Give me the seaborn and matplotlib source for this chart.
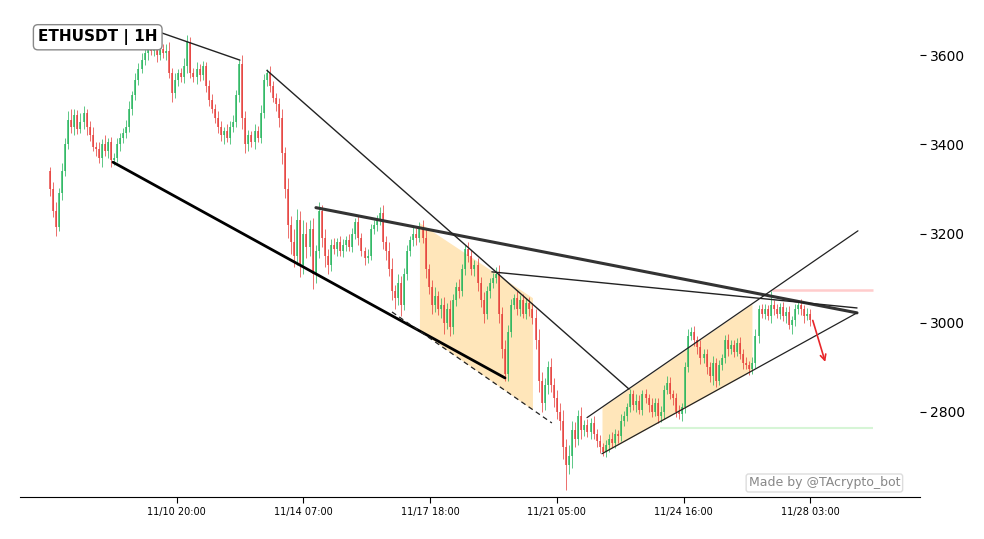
import numpy as np
import pandas as pd
import matplotlib
matplotlib.use("Agg")
import matplotlib.pyplot as plt
import seaborn as sns

# 2-hour closes, starting 11/07 09:00
closes = [
    3300, 3250, 3215, 3290, 3340, 3400, 3455, 3440, 3465, 3435,
    3450, 3470, 3440, 3420, 3395, 3390, 3370, 3400, 3385, 3405,
    3365, 3370, 3400, 3415, 3425, 3440, 3480, 3510, 3545, 3570,
    3590, 3605, 3620, 3610, 3625, 3600, 3615, 3605, 3610, 3560,
    3515, 3545, 3560, 3550, 3575, 3630, 3560, 3550, 3570, 3555,
    3575, 3530, 3500, 3480, 3460, 3440, 3420, 3430, 3415, 3440,
    3450, 3510, 3580, 3460, 3400, 3420, 3405, 3430, 3415, 3470,
    3545, 3560, 3530, 3505, 3490, 3460, 3380, 3300, 3220, 3180,
    3150, 3230, 3130, 3200, 3170, 3210, 3110, 3160, 3250, 3190,
    3150, 3130, 3175, 3165, 3180, 3160, 3175, 3185, 3170, 3200,
    3225, 3190, 3160, 3145, 3150, 3210, 3220, 3230, 3245, 3180,
    3160, 3120, 3070, 3055, 3090, 3040, 3110, 3160, 3185, 3200,
    3190, 3215, 3190, 3120, 3080, 3040, 3060, 3030, 3040, 3000,
    3030, 2990, 3050, 3080, 3070, 3120, 3165, 3150, 3120, 3130,
    3090, 3050, 3020, 3070, 3090, 3100, 3110, 3020, 2940, 2885,
    2980, 3040, 3055, 3030, 3050, 3020, 3045, 3030, 3010, 2960,
    2870, 2820, 2860, 2900, 2860, 2830, 2800, 2780, 2720, 2680,
    2700, 2760, 2740, 2790, 2760, 2770, 2755, 2775, 2750, 2735,
    2720, 2710, 2725, 2740, 2730, 2750, 2745, 2780, 2790, 2810,
    2840, 2815, 2825, 2805, 2840, 2830, 2815, 2800, 2820, 2790,
    2800, 2850, 2865, 2840, 2830, 2800, 2795, 2810, 2900, 2970,
    2980, 2960, 2945, 2920, 2930, 2900, 2880, 2910, 2870, 2905,
    2920, 2960, 2940, 2950, 2935, 2955, 2930, 2910, 2905, 2895,
    2910, 2970, 3030, 3020, 3030, 3015, 3040, 3030, 3020, 3035,
    3015, 3025, 2995, 3005, 3030, 3040, 3030, 3015, 3020, 3005,
]
# wick lengths above / below the body (price units), estimated
wick_hi = [
    10, 15, 20, 12, 18, 15, 20, 25, 15, 12,
    20, 15, 10, 12, 18, 10, 15, 12, 20, 10,
    12, 10, 15, 10, 12, 15, 18, 10, 15, 12,
    15, 10, 12, 8, 15, 10, 12, 10, 15, 20,
    12, 15, 10, 12, 18, 15, 10, 12, 15, 10,
    12, 10, 15, 12, 10, 15, 12, 10, 15, 12,
    15, 12, 10, 20, 15, 12, 10, 15, 12, 18,
    12, 10, 15, 12, 10, 15, 20, 15, 25, 20,
    30, 25, 20, 30, 25, 20, 25, 15, 20, 15,
    20, 15, 12, 15, 10, 15, 12, 10, 15, 12,
    10, 15, 12, 10, 15, 12, 10, 12, 15, 20,
    15, 20, 25, 15, 20, 15, 12, 15, 10, 15,
    12, 10, 15, 20, 12, 15, 20, 12, 15, 18,
    15, 20, 15, 12, 18, 12, 10, 15, 12, 10,
    15, 12, 18, 12, 10, 12, 15, 20, 15, 20,
    15, 12, 10, 15, 12, 15, 10, 12, 15, 20,
    25, 20, 15, 15, 20, 15, 18, 20, 25, 20,
    25, 20, 18, 15, 20, 12, 15, 12, 15, 12,
    12, 10, 12, 10, 15, 12, 10, 15, 12, 10,
    12, 10, 15, 12, 10, 12, 10, 15, 12, 10,
    12, 10, 15, 12, 10, 12, 15, 10, 12, 15,
    10, 12, 10, 15, 12, 10, 12, 15, 10, 12,
    10, 12, 15, 10, 12, 10, 12, 10, 12, 10,
    12, 15, 10, 12, 12, 10, 30, 10, 12, 10,
    12, 10, 12, 10, 12, 10, 12, 10, 12, 10,
]
wick_lo = [
    15, 12, 20, 10, 15, 12, 10, 15, 20, 12,
    10, 15, 20, 12, 10, 15, 12, 20, 10, 15,
    15, 12, 10, 15, 12, 10, 12, 15, 10, 12,
    10, 12, 15, 10, 12, 15, 10, 12, 15, 12,
    20, 12, 15, 10, 12, 15, 12, 10, 15, 12,
    10, 12, 15, 10, 12, 15, 12, 20, 10, 15,
    12, 10, 15, 25, 20, 15, 12, 15, 10, 12,
    10, 15, 12, 10, 15, 20, 25, 20, 30, 25,
    25, 20, 27, 20, 25, 20, 35, 20, 15, 20,
    25, 20, 15, 12, 15, 10, 12, 15, 10, 12,
    12, 15, 10, 15, 12, 10, 12, 15, 10, 15,
    20, 15, 20, 25, 15, 25, 12, 15, 10, 12,
    15, 10, 12, 20, 15, 20, 15, 12, 20, 25,
    15, 20, 15, 12, 15, 10, 12, 15, 12, 15,
    20, 15, 20, 12, 15, 12, 10, 20, 20, 15,
    15, 12, 10, 12, 15, 10, 12, 15, 12, 20,
    25, 20, 15, 20, 15, 20, 15, 20, 25, 55,
    20, 25, 20, 15, 20, 15, 12, 15, 12, 15,
    12, 10, 12, 15, 10, 12, 15, 10, 12, 10,
    10, 12, 15, 10, 12, 10, 15, 12, 10, 15,
    12, 15, 10, 12, 15, 12, 10, 15, 12, 10,
    10, 12, 15, 12, 10, 15, 12, 20, 15, 10,
    12, 10, 15, 10, 12, 10, 12, 15, 10, 12,
    10, 12, 15, 10, 12, 10, 15, 12, 10, 12,
    12, 15, 10, 20, 12, 10, 12, 15, 10, 12,
]
first_open = 3340
candle_step = 2  # hours per candle

tick_hours = [83, 166, 249, 332, 415, 498]
tick_labels = ["11/10 20:00", "11/14 07:00", "11/17 18:00",
               "11/21 05:00", "11/24 16:00", "11/28 03:00"]
y_ticks = [2800, 3000, 3200, 3400, 3600]

# trendlines: hour0, price0, hour1, price1
thick_lines = [(41.3, 3360, 298.0, 2876)]
thick_grey_lines = [(174.2, 3258, 528.5, 3022)]
thin_lines = [(69.0, 3655, 124.4, 3589),
              (142.1, 3566, 379.2, 2851),
              (289.4, 3114, 528.5, 3033)]
channel_upper = (351.7, 2787, 529.1, 3206)
channel_lower = (361.5, 2706, 528.5, 3022)
channel_fill_hours = (361.5, 459.7)
dashed_line = (224.0, 3024, 328.7, 2775)
desc_box = [(242.3, 3223), (316.3, 3055), (316.3, 2804), (242.3, 2981)]
resistance = (472.8, 539.0, 3073)
support = (399.5, 539.0, 2764)
arrow = (499.0, 3011, 508.2, 2906)

sns.set_style("white")
plt.rcParams["font.family"] = ["DejaVu Sans"]

df = pd.DataFrame({"close": closes, "wick_hi": wick_hi, "wick_lo": wick_lo})
df["hour"] = np.arange(len(df)) * candle_step
df["open"] = df["close"].shift(1).fillna(first_open)
df["high"] = df[["open", "close"]].max(axis=1) + df["wick_hi"]
df["low"] = df[["open", "close"]].min(axis=1) - df["wick_lo"]
up = df["close"] >= df["open"]

fig = plt.figure(figsize=(9.84, 5.39), dpi=100)
ax = fig.add_axes([0.0203, 0.078, 0.9146, 0.894])

# patterns
xs = np.array(desc_box)
ax.fill(xs[:, 0], xs[:, 1], color="orange", alpha=0.27, lw=0, zorder=1)


def line_at(seg, h):
    h0, p0, h1, p1 = seg
    return p0 + (p1 - p0) * (h - h0) / (h1 - h0)


fh = np.array(channel_fill_hours)
ax.fill_between(fh, line_at(channel_upper, fh), line_at(channel_lower, fh),
                color="orange", alpha=0.27, lw=0, zorder=1)

# candles
for mask, col in ((up, "#22b45a"), (~up, "#e53935")):
    d = df[mask]
    ax.vlines(d["hour"], d["low"], d["high"], color=col, lw=0.6, alpha=0.85, zorder=2)
    ax.vlines(d["hour"], d["open"], d["close"], color=col, lw=1.2, alpha=0.85, zorder=2)

for h0, p0, h1, p1 in thick_lines:
    ax.plot([h0, h1], [p0, p1], color="black", lw=2, zorder=3)
for h0, p0, h1, p1 in thick_grey_lines:
    ax.plot([h0, h1], [p0, p1], color="#333333", lw=2.2, zorder=3)
for h0, p0, h1, p1 in thin_lines:
    ax.plot([h0, h1], [p0, p1], color="#222222", lw=1, zorder=3)
for seg in (channel_upper, channel_lower):
    ax.plot([seg[0], seg[2]], [seg[1], seg[3]], color="#222222", lw=0.9, zorder=3)
ax.plot([dashed_line[0], dashed_line[2]], [dashed_line[1], dashed_line[3]],
        color="#222222", lw=0.9, ls=(0, (4, 3)), zorder=3)

ax.hlines(resistance[2], resistance[0], resistance[1], color="#ffcccc", lw=1.8, zorder=1)
ax.hlines(support[2], support[0], support[1], color="#d6f5d6", lw=1.5, zorder=1)

ax.annotate("", xy=(arrow[2], arrow[3]), xytext=(arrow[0], arrow[1]),
            arrowprops=dict(arrowstyle="->", color="#e8262a", lw=1.2), zorder=4)

ax.set_xlim(-19.6, 569.7)
ax.set_ylim(2609, 3690)
ax.set_xticks(tick_hours)
ax.set_xticklabels(tick_labels, fontsize=7)
ax.set_yticks(y_ticks)
ax.yaxis.tick_right()
ax.tick_params(axis="y", labelsize=10, length=4, left=False, right=True,
               colors="black")
ax.tick_params(axis="x", length=4, bottom=True, colors="black")
sns.despine(ax=ax, left=True, right=True, top=True)
ax.spines["bottom"].set_color("black")

ax.text(0.02, 0.954, "ETHUSDT | 1H", transform=ax.transAxes, fontsize=11,
        fontweight="bold", color="black", ha="left", va="center", zorder=5,
        bbox=dict(boxstyle="round,pad=0.3", fc="white", ec="#888888", lw=1))
ax.text(0.978, 0.029, "Made by @TAcrypto_bot", transform=ax.transAxes,
        fontsize=9, color="#888888", ha="right", va="center", zorder=5,
        bbox=dict(boxstyle="round,pad=0.2", fc="white", ec="#dddddd", lw=1))

fig.savefig("out.png", dpi=100)
